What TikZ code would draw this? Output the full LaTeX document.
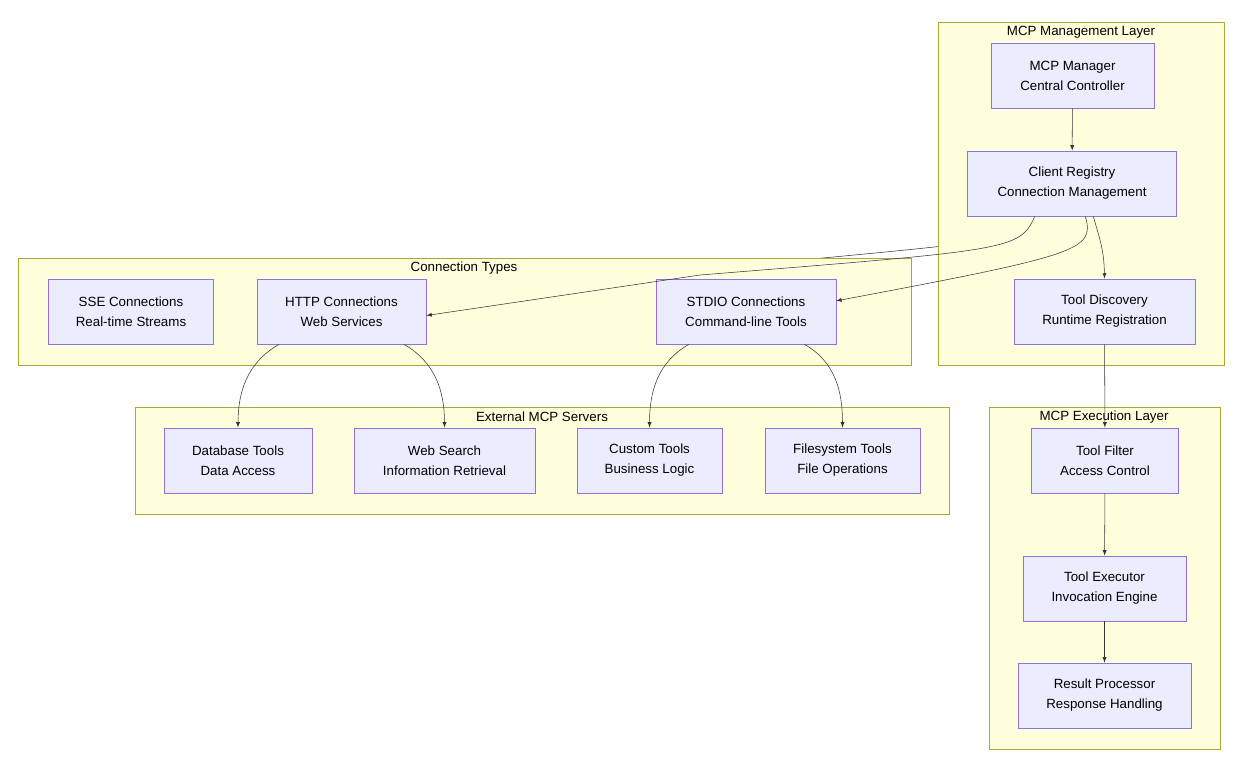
\documentclass[tikz,border=0pt]{standalone}
\usepackage{fontspec}
\setmainfont{Liberation Sans}
\usetikzlibrary{backgrounds}
\definecolor{boxfill}{HTML}{ECECFF}
\definecolor{boxline}{HTML}{9370DB}
\definecolor{grpfill}{HTML}{FFFFDE}
\definecolor{grpline}{HTML}{AAAA33}
\begin{document}
\begin{tikzpicture}[
                        x=0.75pt, y=-0.75pt,
                        >=latex,
                        box/.style={rectangle, draw=boxline, fill=boxfill, align=center, font=\fontsize{10}{15}\selectfont, inner sep=0pt},
                        grp/.style={draw=grpline, fill=grpfill},
                        grplabel/.style={font=\fontsize{10}{12}\selectfont, anchor=center},
                        link/.style={->, draw=black!80, thin}
                    ]
                    \useasboundingbox (0,0) rectangle (1248,778);
                    % Groups
                    \draw [grp] (938,22) rectangle (1224,365);
                    \node [grplabel] (mgmtlbl) at (1081,32) {MCP Management Layer};
                    \draw [grp] (18,258) rectangle (911,365);
                    \node [grplabel] (connlbl) at (464,268) {Connection Types};
                    \draw [grp] (135,407) rectangle (949,514);
                    \node [grplabel] (extlbl) at (542,417) {External MCP Servers};
                    \draw [grp] (989,407) rectangle (1220,749);
                    \node [grplabel] (execlbl) at (1104,417) {MCP Execution Layer};

                    % Blocks
                    \node [box, minimum width=122pt, minimum height=49pt] (mgr) at (1072.5,75.5) {MCP Manager\\Central Controller};
                    \node [box, minimum width=157pt, minimum height=49pt] (reg) at (1072,183.5) {Client Registry\\Connection Management};
                    \node [box, minimum width=136pt, minimum height=49pt] (disc) at (1104.5,311.5) {Tool Discovery\\Runtime Registration};
                    \node [box, minimum width=124pt, minimum height=49pt] (sse) at (131,311.5) {SSE Connections\\Real-time Streams};
                    \node [box, minimum width=127pt, minimum height=49pt] (http) at (341.5,311.5) {HTTP Connections\\Web Services};
                    \node [box, minimum width=135pt, minimum height=49pt] (stdio) at (746,311.5) {STDIO Connections\\Command-line Tools};
                    \node [box, minimum width=111pt, minimum height=49pt] (db) at (238,460.5) {Database Tools\\Data Access};
                    \node [box, minimum width=136pt, minimum height=49pt] (web) at (444.5,460.5) {Web Search\\Information Retrieval};
                    \node [box, minimum width=109pt, minimum height=49pt] (custom) at (649.5,460.5) {Custom Tools\\Business Logic};
                    \node [box, minimum width=116pt, minimum height=49pt] (fs) at (842.5,460.5) {Filesystem Tools\\File Operations};
                    \node [box, minimum width=110pt, minimum height=49pt] (filter) at (1105,460.5) {Tool Filter\\Access Control};
                    \node [box, minimum width=122pt, minimum height=49pt] (execu) at (1104.5,588.5) {Tool Executor\\Invocation Engine};
                    \node [box, minimum width=130pt, minimum height=49pt] (result) at (1104.5,695.5) {Result Processor\\Response Handling};

                    % Connections
                    \begin{scope}[on background layer]
                    \draw [link] ([xshift=-37pt]reg.south) .. controls (1010,245) and (1000,240) .. (700,270) -- (300,300) -- (sse.east);
                    \end{scope}
                    \draw [link] (mgr) -- (reg);
                    \draw [link] ([xshift=-28pt]reg.south) .. controls (1020,250) and (1010,250) .. (700,275) -- ([yshift=-3pt]http.east);
                    \draw [link] ([xshift=10pt]reg.south) .. controls (1095,250) and (1080,255) .. ([yshift=8pt]stdio.east);
                    \draw [link] ([xshift=16pt]reg.south) .. controls (1100,240) and (1104,250) .. (disc.north);
                    \draw [link] ([xshift=-47pt]http.south) to[out=-150, in=90] (db.north);
                    \draw [link] ([xshift=47pt]http.south) to[out=-30, in=90] (web.north);
                    \draw [link] ([xshift=-43pt]stdio.south) to[out=-150, in=90] (custom.north);
                    \draw [link] ([xshift=44pt]stdio.south) to[out=-30, in=90] (fs.north);
                    \draw [link] (disc) -- (filter);
                    \draw [link] (filter) -- (execu);
                    \draw [link] (execu) -- (result);
                \end{tikzpicture}
\end{document}
